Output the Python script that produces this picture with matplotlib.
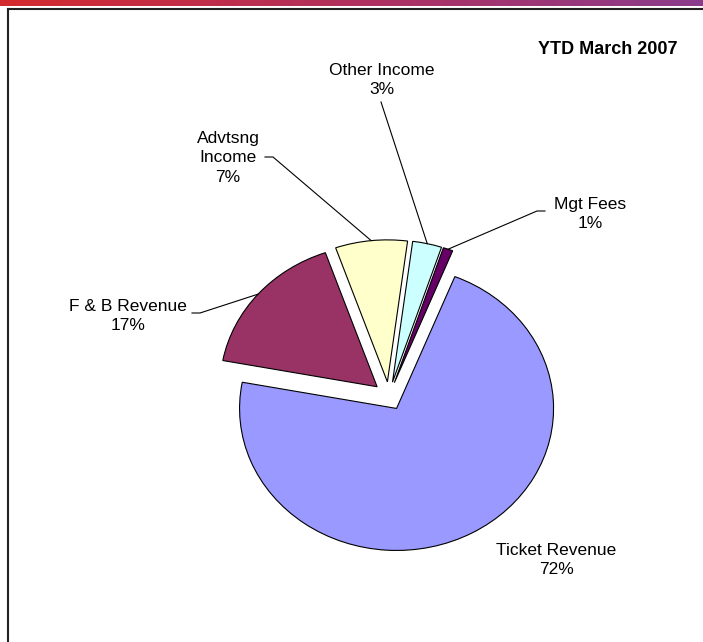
import numpy as np
import matplotlib
matplotlib.use("Agg")
import matplotlib.pyplot as plt
from matplotlib.lines import Line2D
from matplotlib.colors import LinearSegmentedColormap

plt.rcParams['font.family'] = ['Liberation Sans', 'DejaVu Sans']

# === Datos ===
categorias = ["Ticket Revenue", "F & B Revenue", "Advtsng\nIncome", "Other Income", "Mgt Fees"]
valores = [71.9, 16.7, 7.4, 3.0, 1.0]
colores = ["#9999FF", "#993366", "#FFFFCC", "#CCFFFF", "#660066"]
titulo = "YTD March 2007"

# geometria en pixeles (centro del pie, radios de la elipse)
W, H = 703, 642
CX, CY = 389, 396
RX, RY = 157, 142

def px2data(px, py):
    return (px - CX) / RX, (CY - py) / RY

fig = plt.figure(figsize=(W / 100, H / 100), dpi=100)
ax = fig.add_axes([0, 0, 1, 1])

wedges, _ = ax.pie(valores, colors=colores, startangle=68.2, counterclock=False,
                   explode=[0.1] * len(valores),
                   wedgeprops=dict(edgecolor="black", linewidth=0.8))
ax.set_aspect('auto')
ax.set_xlim(px2data(0, 0)[0], px2data(W, 0)[0])
ax.set_ylim(px2data(0, H)[1], px2data(0, 0)[1])
ax.axis('off')

# Etiquetas: posicion del texto (pixeles) y codo de la linea guia
etiquetas = {
    0: dict(txt=(556, 560), codo=None),
    1: dict(txt=(128, 316), codo=[(192, 313), (200, 313)]),
    2: dict(txt=(228, 158), codo=[(265, 157), (273, 157)]),
    3: dict(txt=(382, 80), codo=[(381, 102)]),
    4: dict(txt=(590, 214), codo=[(545, 211), (537, 211)]),
}

for i, w in enumerate(wedges):
    pct = round(valores[i] / sum(valores) * 100)
    nombre = categorias[i]
    tx, ty = px2data(*etiquetas[i]["txt"])
    ax.text(tx, ty, f"{nombre}\n{pct}%", ha="center", va="center",
            fontsize=12.5, linespacing=1.35, color="black")
    codo = etiquetas[i]["codo"]
    if codo is None:
        continue
    # punto medio del arco de la cuña (con explosion)
    ang = np.deg2rad((w.theta1 + w.theta2) / 2)
    cx, cy = w.center
    ex, ey = cx + np.cos(ang), cy + np.sin(ang)
    xs = [px2data(*p)[0] for p in codo] + [ex]
    ys = [px2data(*p)[1] for p in codo] + [ey]
    ax.plot(xs, ys, color="black", linewidth=0.8)

tx, ty = px2data(677, 50)
ax.text(tx, ty, titulo, ha="right", va="center", fontsize=13, fontweight="bold")

# Marco y banda superior
fig.add_artist(Line2D([8 / W, 8 / W], [0, 1 - 9 / H], color="#222222", linewidth=1.5))
fig.add_artist(Line2D([8 / W, 1], [1 - 9 / H, 1 - 9 / H], color="#222222", linewidth=1.5))
banda = fig.add_axes([0, 1 - 6 / H, 1, 6 / H])
cmap = LinearSegmentedColormap.from_list("banda", ["#d42a2e", "#b0305e", "#8a3c8c"])
banda.imshow(np.linspace(0, 1, 256)[None, :], aspect="auto", cmap=cmap)
banda.axis('off')

fig.savefig("out.png", dpi=100)
